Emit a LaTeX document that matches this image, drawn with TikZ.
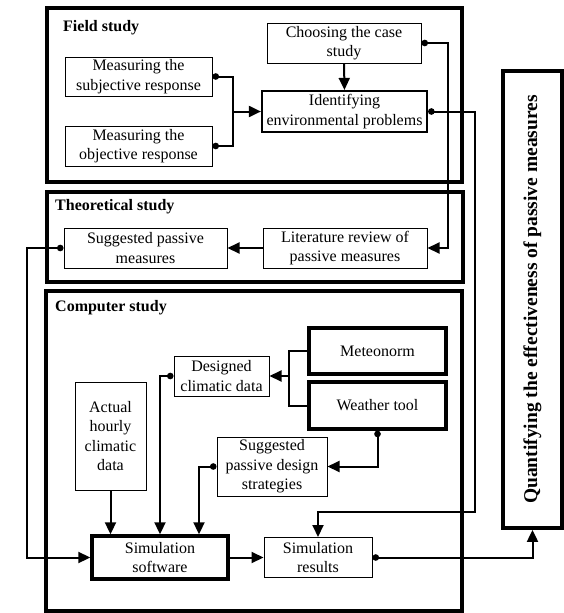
\documentclass[tikz,border=0pt]{standalone}
\usepackage{fontspec}
\setmainfont{Liberation Serif}
\usetikzlibrary{arrows.meta}
\tikzset{
 box/.style={draw, line width=1pt, inner sep=0pt, align=center, font=\fontsize{16}{19.5}\selectfont},
 bbox/.style={box, line width=3.4pt},
 mbox/.style={box, line width=2.2pt},
 frame/.style={draw, line width=3.8pt},
 lbl/.style={anchor=west, font=\bfseries\fontsize{16}{19.5}\selectfont, inner sep=0pt},
 tip/.tip={Triangle[length=12pt,width=11pt]},
 dot/.tip={Circle[length=6.5pt]},
 con/.style={line width=2pt, -tip},
 dcon/.style={line width=2pt, dot-tip},
 dline/.style={line width=2pt, dot-},
 plain/.style={line width=2pt}
}
\begin{document}
\begin{tikzpicture}[x=1pt,y=-1pt]
\useasboundingbox (0,0) rectangle (564,613);
% frames
\draw[frame] (47,8) rectangle (462,182);
\draw[frame] (47,192) rectangle (463,282);
\draw[frame] (46,291) rectangle (462,611);
\node[lbl] (lf) at (63,28) {Field study};
\node[lbl] (lt) at (55,207) {Theoretical study};
\node[lbl] (lc) at (55,308) {Computer study};
% field study
\node[box, minimum width=154, minimum height=40] (choose) at (344,43) {Choosing the case\\study};
\node[box, minimum width=147, minimum height=39] (subj) at (138.5,76.5) {Measuring the\\subjective response};
\node[box, minimum width=147, minimum height=40] (obj) at (138.5,146) {Measuring the\\objective response};
\node[mbox, minimum width=165, minimum height=41] (ident) at (344.5,111.5) {Identifying\\environmental problems};
% theoretical study
\node[box, minimum width=163, minimum height=40] (sugg) at (145.5,248) {Suggested passive\\measures};
\node[box, minimum width=164, minimum height=40] (lit) at (345,248) {Literature review of\\passive measures};
% computer study
\node[bbox, minimum width=137, minimum height=46] (meteo) at (377.5,351) {Meteonorm};
\node[bbox, minimum width=137, minimum height=47] (weather) at (377.5,405.5) {Weather tool};
\node[box, minimum width=95, minimum height=40] (designed) at (221.5,376) {Designed\\climatic data};
\node[box, minimum width=71, minimum height=108] (actual) at (110.5,436) {Actual\\hourly\\climatic\\data};
\node[box, minimum width=110, minimum height=59] (strat) at (272,466.5) {Suggested\\passive design\\strategies};
\node[bbox, minimum width=136, minimum height=43] (simsw) at (160,557.5) {Simulation\\software};
\node[box, minimum width=108, minimum height=40] (simres) at (318,557.5) {Simulation\\results};
% quantifying
\node[draw, line width=3.8pt, inner sep=0pt, minimum width=59, minimum height=457] (quant) at (532.5,299.5) {};
\node[rotate=90, inner sep=0pt, font=\bfseries\fontsize{19.5}{20}\selectfont] (qtext) at (quant.center) {Quantifying the effectiveness of passive measures};
% junction coordinates
\coordinate (j1) at (233,111.5);
\coordinate (r1) at (475,512);
\coordinate (m1) at (289,376);
% connectors
\draw[dline] (obj.east) -| (j1);
\draw[dcon] (subj.east) -| (j1) -- (ident.west);
\draw[con] (choose.south) -- (ident.north);
\draw[dcon] (choose.east) -- ++(26,0) |- (lit.east);
\draw[dcon] (ident.east) -| (r1) -| (simres.north);
\draw[con] (lit.west) -- (sugg.east);
\draw[dcon] (sugg.west) -- ++(-37,0) |- (simsw.west);
\draw[plain] (meteo.west) -| (m1) |- (weather.west);
\draw[con] (m1) -- (designed.east);
\draw[dcon] (weather.south) |- (strat.east);
\draw[dcon] (strat.west) -| ([xshift=39pt]simsw.north);
\draw[dcon] (designed.west) -| (simsw.north);
\draw[con] (actual.south) -- (actual.south |- simsw.north);
\draw[con] (simsw.east) -- (simres.west);
\draw[dcon] (simres.east) -| (quant.south);
\end{tikzpicture}
\end{document}
